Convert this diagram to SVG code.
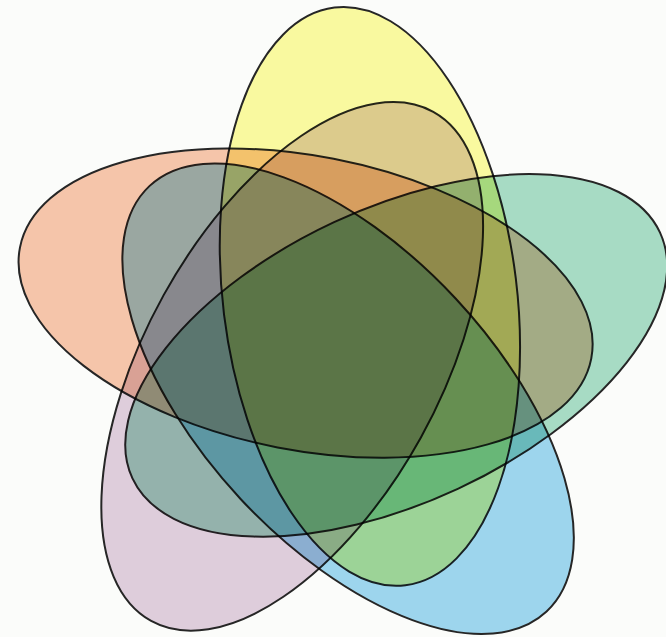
<svg xmlns="http://www.w3.org/2000/svg" width="666" height="637" viewBox="0 0 666 637">
<style>
.set { mix-blend-mode: multiply; }
.set ellipse { stroke: #262626; stroke-width: 2; }
</style>
<rect width="666" height="637" fill="#fbfcfa"/>
<g id="set-red" class="set"><ellipse cx="305.6" cy="303.1" rx="291" ry="147" transform="rotate(11 305.6 303.1)" fill="#f9c8ae"/></g>
<g id="set-yellow" class="set"><ellipse cx="369.9" cy="296.4" rx="291" ry="147" transform="rotate(83 369.9 296.4)" fill="#fdfca2"/></g>
<g id="set-green" class="set"><ellipse cx="396.2" cy="355.4" rx="291" ry="147" transform="rotate(155 396.2 355.4)" fill="#aadec8"/></g>
<g id="set-blue" class="set"><ellipse cx="348.1" cy="398.7" rx="291" ry="147" transform="rotate(227 348.1 398.7)" fill="#a0d8f2"/></g>
<g id="set-purple" class="set"><ellipse cx="292.2" cy="366.4" rx="291" ry="147" transform="rotate(299 292.2 366.4)" fill="#e2d0e0"/></g>
</svg>
